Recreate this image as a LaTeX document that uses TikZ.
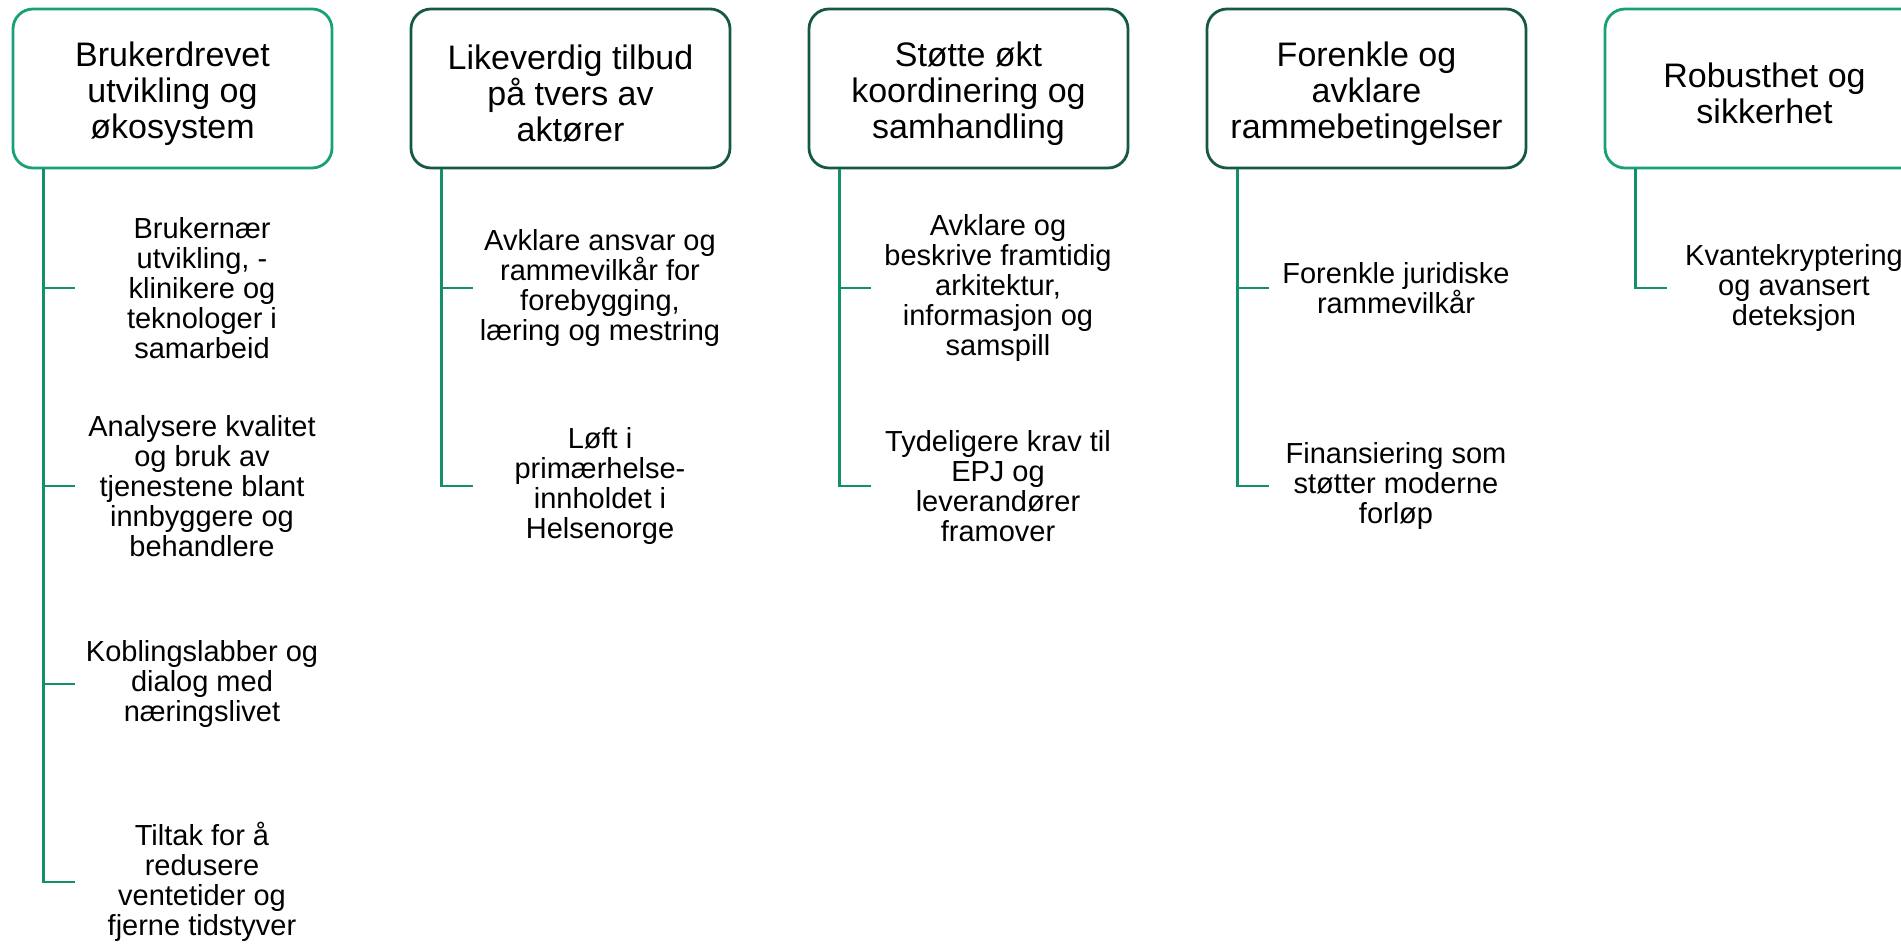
\documentclass[tikz,border=0pt]{standalone}
\usepackage{fontspec}
\setmainfont{Liberation Sans}
\usepackage{tikz}
\usetikzlibrary{calc,positioning}
\definecolor{lysgronn}{RGB}{24,160,120}
\definecolor{morkgronn}{RGB}{22,88,68}
\definecolor{strekgronn}{RGB}{16,145,108}
\newcommand{\oppe}{\rule{0pt}{17.2pt}}
\tikzset{
  tema/.style={
    rectangle,
    rounded corners=10pt,
    draw=lysgronn, line width=1.4pt,
    minimum width=159.5pt,
    minimum height=79.5pt,
    align=center,
    font=\fontsize{17}{18}\selectfont},
  temamork/.style={tema, draw=morkgronn},
  tiltak/.style={
    align=center,
    inner sep=0pt,
    font=\fontsize{14.5}{15}\selectfont},
  gren/.style={draw=strekgronn, line width=1.3pt},
}

\begin{document}
\begin{tikzpicture}[x=0.5pt,y=-0.5pt]

		\useasboundingbox (0,0) rectangle (1901,945);

		% temaboksene
		\node[tema] (t1) at (172.5,88.5) {\oppe Brukerdrevet\\utvikling og\\økosystem};
		\node[temamork] (t2) at (570.5,88.5) {\oppe Likeverdig tilbud\\på tvers av\\aktører};
		\node[temamork] (t3) at (968.5,88.5) {\oppe Støtte økt\\koordinering og\\samhandling};
		\node[temamork] (t4) at (1366.5,88.5) {\oppe Forenkle og\\avklare\\rammebetingelser};
		\node[tema] (t5) at (1764.5,88.5) {\oppe Robusthet og\\sikkerhet};

		% tiltak under hvert tema
		\node[tiltak] (k1a) at (202,288) {Brukernær\\utvikling, -\\klinikere og\\teknologer i\\samarbeid};
		\node[tiltak] (k1b) at (202,486) {Analysere kvalitet\\og bruk av\\tjenestene blant\\innbyggere og\\behandlere};
		\node[tiltak] (k1c) at (202,684) {Koblingslabber og\\dialog med\\næringslivet};
		\node[tiltak] (k1d) at (202,882) {Tiltak for å\\redusere\\ventetider og\\fjerne tidstyver};

		\node[tiltak] (k2a) at (600,288) {Avklare ansvar og\\rammevilkår for\\forebygging,\\læring og mestring};
		\node[tiltak] (k2b) at (600,486) {Løft i\\primærhelse-\\innholdet i\\Helsenorge};

		\node[tiltak] (k3a) at (998,288) {Avklare og\\beskrive framtidig\\arkitektur,\\informasjon og\\samspill};
		\node[tiltak] (k3b) at (998,486) {Tydeligere krav til\\EPJ og\\leverandører\\framover};

		\node[tiltak] (k4a) at (1396,288) {Forenkle juridiske\\rammevilkår};
		\node[tiltak] (k4b) at (1396,486) {Finansiering som\\støtter moderne\\forløp};

		\node[tiltak] (k5a) at (1794,288) {Kvantekryptering\\og avansert\\deteksjon};

		% grenene
		\coordinate (g1a) at (75,288);
		\coordinate (g1b) at (75,486);
		\coordinate (g1c) at (75,684);
		\coordinate (g1d) at (75,882);
		\coordinate (g2a) at (473,288);
		\coordinate (g2b) at (473,486);
		\coordinate (g3a) at (871,288);
		\coordinate (g3b) at (871,486);
		\coordinate (g4a) at (1269,288);
		\coordinate (g4b) at (1269,486);
		\coordinate (g5a) at (1667,288);

		\draw[gren] ([xshift=16pt]t1.south west) |- (g1d);
		\draw[gren] ([xshift=16pt]t1.south west) |- (g1a);
		\draw[gren] ([xshift=16pt]t1.south west) |- (g1b);
		\draw[gren] ([xshift=16pt]t1.south west) |- (g1c);

		\draw[gren] ([xshift=16pt]t2.south west) |- (g2b);
		\draw[gren] ([xshift=16pt]t2.south west) |- (g2a);

		\draw[gren] ([xshift=16pt]t3.south west) |- (g3b);
		\draw[gren] ([xshift=16pt]t3.south west) |- (g3a);

		\draw[gren] ([xshift=16pt]t4.south west) |- (g4b);
		\draw[gren] ([xshift=16pt]t4.south west) |- (g4a);

		\draw[gren] ([xshift=16pt]t5.south west) |- (g5a);

	\end{tikzpicture}
\end{document}
